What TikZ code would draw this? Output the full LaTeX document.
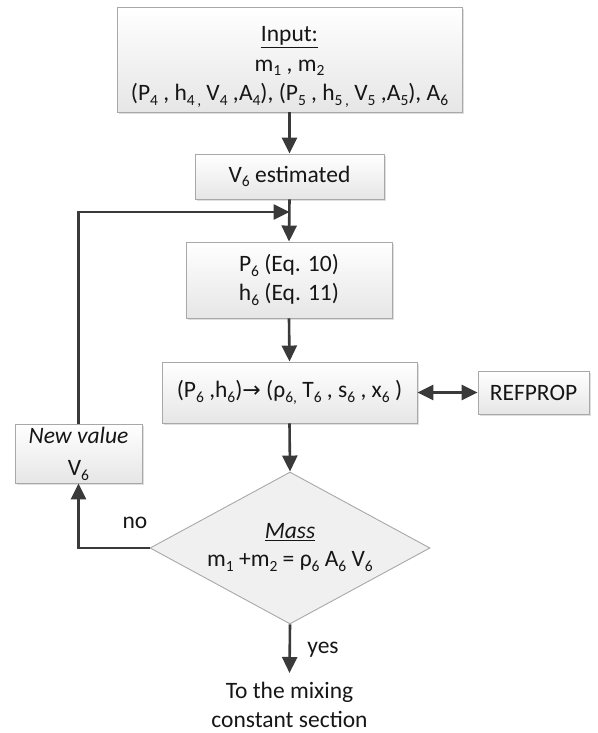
\documentclass[tikz,border=0pt]{standalone}
\usepackage{fontspec}
\setmainfont{Carlito}
\newfontfamily\arrowfont{DejaVu Sans}
\usetikzlibrary{arrows.meta,shapes.geometric,shadows}

% lowered index digits, a little larger than \textsubscript gives
\newcommand{\sbs}[1]{\raisebox{-0.2em}{\fontsize{15.5}{15.5}\selectfont #1}}

\definecolor{inkgray}{HTML}{3A3A3A}
\definecolor{edgegray}{HTML}{A8A8A8}
\definecolor{fillbottom}{HTML}{E6E6E6}
\definecolor{textdark}{HTML}{161616}

\tikzset{
  base/.style={font={\fontsize{23.5}{29.5}\selectfont}, text=textdark},
  stepbox/.style={base, draw=edgegray, line width=0.9pt, rectangle,
    top color=white, bottom color=fillbottom, inner sep=0pt,
    align=center,
    drop shadow={shadow xshift=1.8pt, shadow yshift=-1.8pt, opacity=0.25, fill=gray}},
  decision/.style={base, draw=edgegray, line width=0.9pt, diamond,
    fill=gray!12, inner sep=0pt, aspect=1.84,
    minimum width=280pt, minimum height=152pt},
  arr/.style={draw=inkgray, line width=2.6pt,
    -{Triangle[length=16pt,width=15pt]}},
  biarr/.style={draw=inkgray, line width=2.6pt,
    {Triangle[length=16pt,width=15pt]}-{Triangle[length=16pt,width=15pt]}},
  plain/.style={base, inner sep=0pt}
}

\begin{document}
% keep a fixed baseline distance even when subscripts hang low
\lineskiplimit=-30pt
\begin{tikzpicture}[x=1pt,y=-1pt]
\useasboundingbox (0,0) rectangle (597,733);

% process boxes
\node[stepbox, minimum width=345pt, minimum height=105pt] (input) at (289.5,59.5)
  {\rule{0pt}{30pt}\underline{Input:}\\
   m\sbs{1} , m\sbs{2}\\
   (P\sbs{4} , h\sbs{4\,,} V\sbs{4} ,A\sbs{4}), (P\sbs{5} , h\sbs{5\,,} V\sbs{5} ,A\sbs{5}), A\sbs{6}};

\node[stepbox, minimum width=189pt, minimum height=45pt] (est) at (289.5,176.5)
  {V\sbs{6} estimated};

\node[stepbox, minimum width=206pt, minimum height=76pt] (p6) at (289,280)
  {P\sbs{6} (Eq. 10)\\ h\sbs{6} (Eq. 11)};

\node[stepbox, minimum width=255pt, minimum height=61pt] (prop) at (289.5,392.5)
  {(P\sbs{6} ,h\sbs{6}){\arrowfont\fontsize{22}{22}\selectfont →} (ρ\sbs{6,} T\sbs{6} , s\sbs{6} , x\sbs{6} )};

\node[stepbox, minimum width=111pt, minimum height=43pt] (ref) at (533.5,392.5)
  {REFPROP};

\node[stepbox, minimum width=127pt, minimum height=59pt] (newv) at (78.5,453.5)
  {\textit{New value}\\[3pt] V\sbs{6}};

% decision
\node[decision] (mass) at (290,548)
  {\raisebox{-5pt}[0pt][0pt]{\makebox[0pt]{\lineskiplimit=0pt\begin{tabular}{@{}c@{}}
     \underline{\textit{Mass}}\\[-1pt]
     m\sbs{1} +m\sbs{2} = ρ\sbs{6} A\sbs{6} V\sbs{6}
   \end{tabular}}}};

% exit text
\node[plain, align=center, outer sep=9pt, anchor=north] (dest) at (289.5,673)
  {To the mixing\\ constant section};

% labels
\node[plain] (nolab) at (135,523) {no};
\node[plain] (yeslab) at (323,650) {yes};

% connectors
\coordinate (join) at (289.5,212);
\draw[arr] (input.south) -- (est.north);
\draw[arr] (est.south) -- (p6.north);
\draw[arr] (p6.south) -- (prop.north);
\draw[arr] (prop.south) -- (mass.north);
\draw[biarr] (prop.east) -- (ref.west);
\draw[arr] (mass.south) -- (dest.north);
\draw[arr] (mass.west) -| (newv.south);
\draw[arr] (newv.north) |- (join);
\end{tikzpicture}
\end{document}
